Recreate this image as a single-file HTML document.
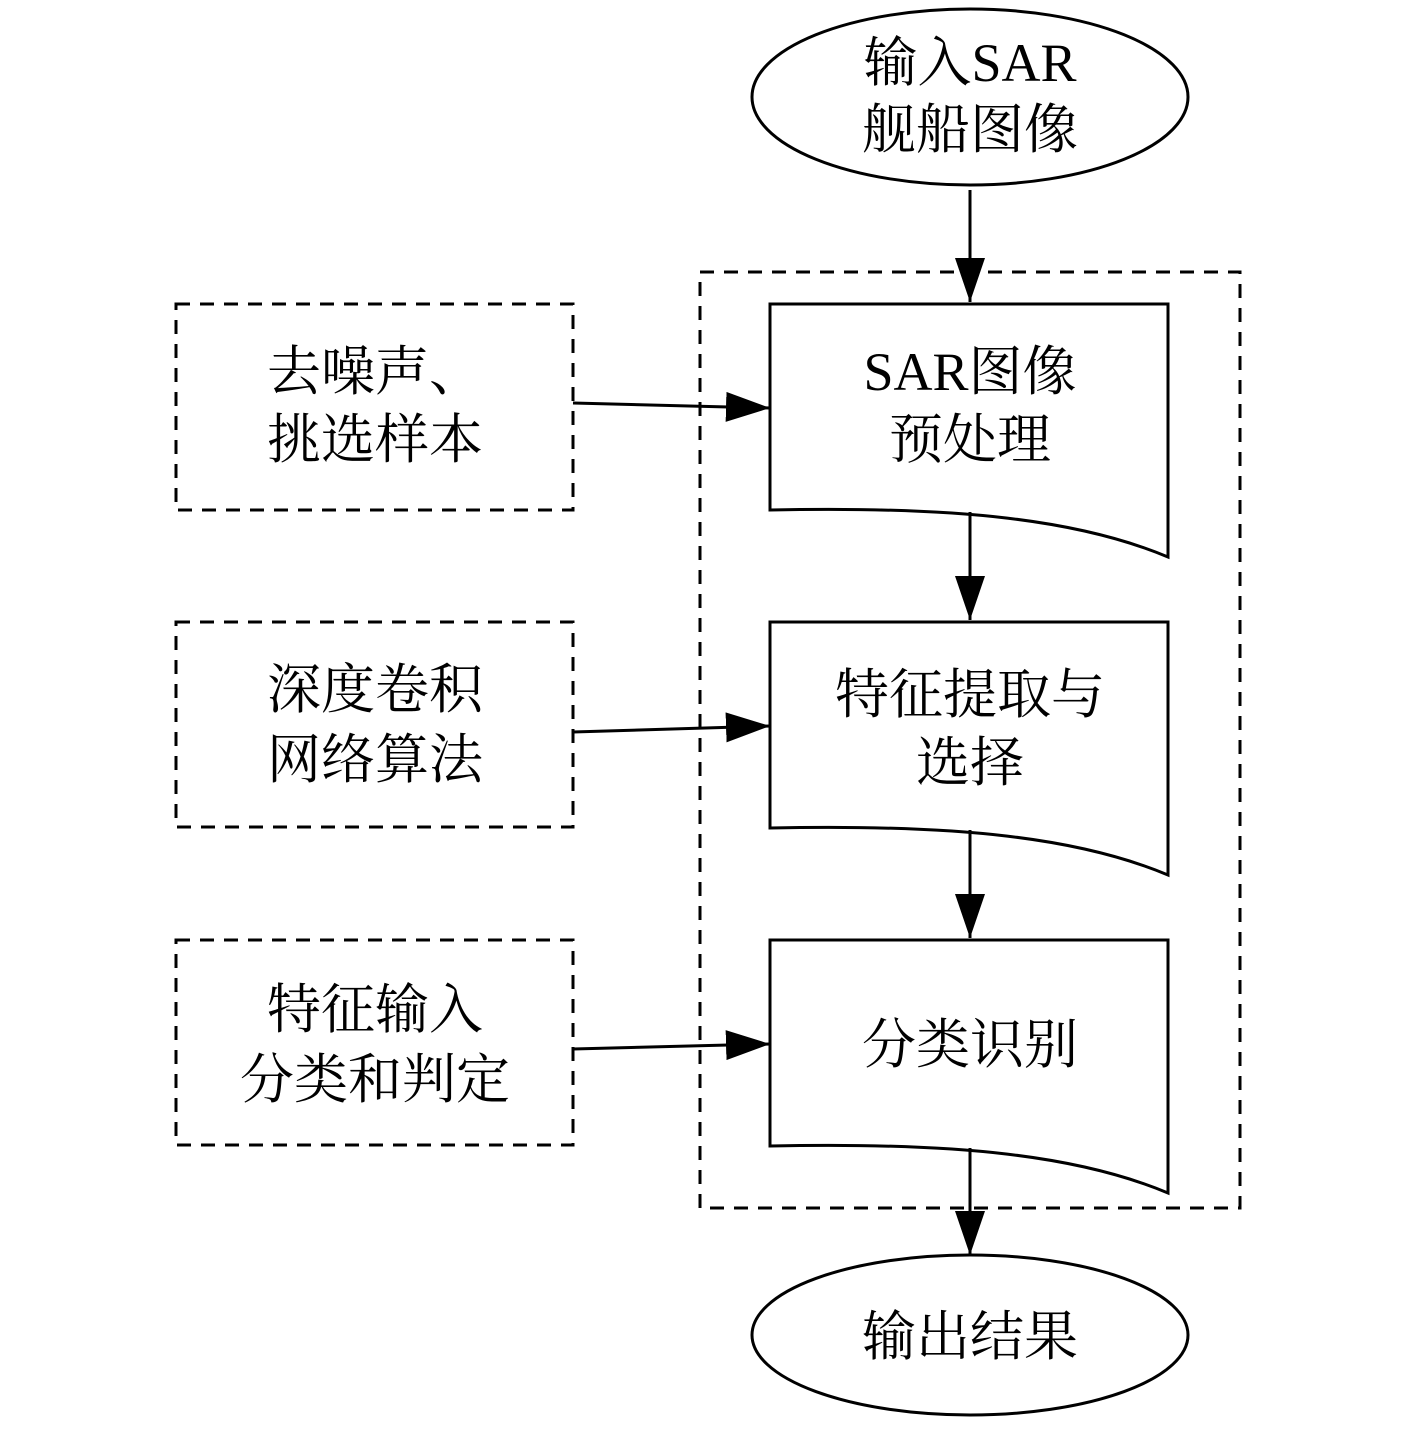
<!DOCTYPE html>
<html><head><meta charset="utf-8"><style>
html,body{margin:0;padding:0;background:#fff}
svg{display:block}
text{font-family:"Liberation Serif","Noto Serif CJK SC","Noto Sans CJK SC",serif;font-size:54px;fill:#000;text-anchor:middle;dominant-baseline:central}
</style></head><body>
<svg width="1417" height="1434" viewBox="0 0 1417 1434" xmlns="http://www.w3.org/2000/svg">
<defs><marker id="a" markerWidth="44" markerHeight="30" refX="44" refY="15" orient="auto" markerUnits="userSpaceOnUse"><path d="M0,0 L44,15 L0,30 Z" fill="#000"/></marker></defs>
<g fill="none" stroke="#000" stroke-width="3">
<ellipse cx="970" cy="97" rx="218" ry="88"/>
<ellipse cx="970" cy="1335" rx="218" ry="80"/>
<g stroke-dasharray="14,10">
<rect x="700" y="272" width="540" height="936"/>
<rect x="176" y="304" width="397" height="206"/>
<rect x="176" y="622" width="397" height="205"/>
<rect x="176" y="940" width="397" height="205"/>
</g>
<path d="M770,304 H1168 V557 C1080,520 960,506 770,510 Z"/>
<path d="M770,622 H1168 V875 C1080,838 960,824 770,828 Z"/>
<path d="M770,940 H1168 V1193 C1080,1156 960,1142 770,1146 Z"/>
<line x1="970" y1="190" x2="970" y2="302" marker-end="url(#a)"/>
<line x1="970" y1="512" x2="970" y2="620" marker-end="url(#a)"/>
<line x1="970" y1="830" x2="970" y2="938" marker-end="url(#a)"/>
<line x1="970" y1="1148" x2="970" y2="1255" marker-end="url(#a)"/>
<line x1="573" y1="403" x2="770" y2="408" marker-end="url(#a)"/>
<line x1="573" y1="732" x2="770" y2="726" marker-end="url(#a)"/>
<line x1="573" y1="1049" x2="770" y2="1044" marker-end="url(#a)"/>
</g>
<text x="970" y="63">输入SAR</text>
<text x="970" y="130">舰船图像</text>
<text x="970" y="372">SAR图像</text>
<text x="970" y="440">预处理</text>
<text x="970" y="695">特征提取与</text>
<text x="970" y="763">选择</text>
<text x="970" y="1045">分类识别</text>
<text x="970" y="1337">输出结果</text>
<text x="375" y="372">去噪声、</text>
<text x="375" y="440">挑选样本</text>
<text x="375" y="690">深度卷积</text>
<text x="375" y="760">网络算法</text>
<text x="375" y="1010">特征输入</text>
<text x="375" y="1080">分类和判定</text>
</svg>
</body></html>
